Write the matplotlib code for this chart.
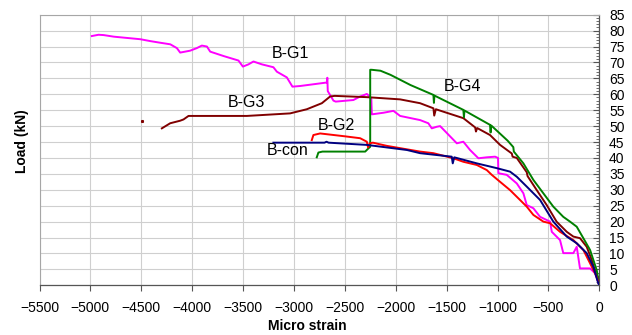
import matplotlib
matplotlib.use("Agg")
import matplotlib.pyplot as plt
from matplotlib.ticker import MultipleLocator

plt.rcParams['font.family'] = ['Liberation Sans', 'DejaVu Sans']

# load - strain curves, micro strain (negative = compression) vs load in kN
g1_x = [-4986, -4920, -4870, -4770, -4510, -4410, -4315, -4215, -4150, -4118,
        -4020, -3955, -3905, -3855, -3823, -3690, -3545, -3502, -3447, -3398,
        -3315, -3202, -3168, -3070, -3015, -2940, -2677, -2672, -2668, -2612,
        -2590, -2416, -2350, -2284, -2262, -2240, -2235, -2121, -2023, -1990,
        -1957, -1761, -1680, -1646, -1597, -1564, -1400, -1336, -1270, -1188,
        -1106, -1024, -995, -992, -910, -811, -746, -713, -648, -582,
        -484, -467, -386, -354, -255, -222, -190, -91, -42, 0]
g1_y = [78.3, 78.7, 78.6, 78.1, 77.3, 76.7, 76.2, 75.7, 74.5, 73.1,
        73.7, 74.5, 75.3, 75.0, 73.4, 72.0, 70.6, 68.7, 69.4, 70.3,
        69.4, 68.5, 67.1, 65.3, 62.4, 62.6, 63.7, 65.2, 61.0, 58.0,
        57.7, 58.2, 59.3, 60.1, 59.5, 58.5, 53.7, 54.2, 54.8, 54.0,
        53.2, 51.9, 50.9, 49.3, 49.8, 50.0, 44.6, 45.1, 42.5, 39.9,
        40.2, 40.4, 40.0, 35.2, 34.7, 32.0, 28.9, 25.2, 24.2, 21.5,
        20.0, 16.8, 14.2, 10.1, 10.1, 12.1, 5.3, 5.3, 3.8, 0]

g3_x = [-4298, -4216, -4118, -4085, -4036, -3463, -3038, -2874, -2726, -2645,
        -2600, -2284, -1957, -1761, -1630, -1622, -1606, -1336, -1220, -1212,
        -1200, -1074, -975, -860, -852, -811, -713, -705, -615, -517,
        -420, -320, -255, -190, -124, -75, 0]
g3_y = [49.3, 50.9, 51.7, 52.1, 53.2, 53.2, 54.0, 55.3, 57.2, 59.3,
        59.5, 59.1, 58.4, 57.2, 55.6, 53.3, 55.3, 52.5, 49.6, 48.3,
        49.4, 47.2, 44.1, 41.4, 40.4, 40.0, 35.5, 34.3, 29.9, 25.2,
        20.0, 16.8, 15.3, 14.8, 12.1, 8.0, 0]
g3_stray_x = [-4495]
g3_stray_y = [51.7]

g4_x = [-2776, -2760, -2720, -2300, -2269, -2251, -2251, -2236, -2150, -2051,
        -1855, -1630, -1625, -1620, -1336, -1330, -1325, -1074, -1068, -1062,
        -900, -845, -840, -746, -648, -550, -452, -354, -288, -222,
        -157, -91, -26, 0]
g4_y = [40.2, 41.7, 42.0, 42.0, 43.0, 43.5, 67.7, 67.7, 67.4, 66.1,
        62.9, 59.8, 57.3, 59.6, 55.1, 52.8, 54.9, 50.4, 48.0, 50.2,
        45.4, 43.4, 42.0, 38.3, 33.1, 28.9, 24.7, 21.5, 20.0, 18.4,
        14.8, 11.1, 4.8, 0]

g2_x = [-2825, -2809, -2743, -2500, -2350, -2284, -2272, -2255, -2225, -2088,
        -1761, -1630, -1434, -1336, -1204, -1106, -1057, -975, -877, -779,
        -713, -648, -550, -484, -386, -255, -157, -91, -26, 0]
g2_y = [45.6, 47.2, 47.7, 46.8, 46.2, 45.1, 43.3, 44.6, 44.8, 43.8,
        42.0, 41.5, 39.9, 38.8, 37.8, 36.2, 34.7, 32.5, 29.9, 26.8,
        24.7, 22.1, 20.0, 19.5, 16.8, 14.2, 11.1, 6.9, 2.7, 0]

con_x = [-3202, -2700, -2680, -2660, -2284, -1890, -1761, -1450, -1440, -1425,
         -1204, -1008, -877, -811, -713, -582, -452, -320, -222, -124,
         -59, -10, 0]
con_y = [44.8, 44.8, 45.1, 44.8, 44.1, 42.5, 41.5, 40.4, 38.3, 40.2,
         38.3, 36.8, 35.7, 34.1, 31.0, 26.8, 20.0, 15.3, 13.2, 10.1,
         5.8, 0.6, 0]

labels = ['B-G1', 'B-G3', 'B-G2', 'B-con', 'B-G4']
label_x = [-3038, -3470, -2586, -3067, -1344]
label_y = [72.7, 57.3, 50.2, 42.2, 62.6]

fig = plt.figure(figsize=(6.32, 3.35), dpi=100)
ax = fig.add_axes([0.0625, 0.1484, 0.8858, 0.8077])

lw = 1.4
ax.plot(g1_x, g1_y, color='#FF00FF', lw=lw, zorder=3)
ax.plot(g3_x, g3_y, color='#800000', lw=lw, zorder=3)
ax.plot(g3_stray_x, g3_stray_y, 's', color='#800000', ms=1.2, zorder=3)
ax.plot(g4_x, g4_y, color='#008000', lw=lw, zorder=3)
ax.plot(g2_x, g2_y, color='#FF0000', lw=lw, zorder=4)
ax.plot(con_x, con_y, color='#000080', lw=lw, zorder=5)

for t, x, y in zip(labels, label_x, label_y):
    ax.text(x, y, t, fontsize=11.5, ha='center', va='center', zorder=6)

ax.set_xlim(-5500, 0)
ax.set_ylim(0, 85)
ax.xaxis.set_major_locator(MultipleLocator(500))
ax.yaxis.set_major_locator(MultipleLocator(5))
ax.yaxis.set_minor_locator(MultipleLocator(1))
ax.yaxis.tick_right()
ax.grid(True, color='#cfcfcf', lw=0.8, zorder=0)

ax.tick_params(axis='x', direction='out', length=4, width=0.8, color='#555555',
               labelsize=10, pad=7)
ax.tick_params(axis='y', which='major', direction='in', length=4, width=0.8,
               color='#555555', labelsize=10, pad=7)
ax.tick_params(axis='y', which='minor', direction='in', length=2, width=0.6,
               color='#555555')

for s in ['top', 'left']:
    ax.spines[s].set_color('#a6a6a6')
    ax.spines[s].set_linewidth(0.8)
for s in ['bottom', 'right']:
    ax.spines[s].set_color('#555555')
    ax.spines[s].set_linewidth(0.9)

fig.text(0.486, 0.006, 'Micro strain', fontsize=10, fontweight='bold',
         ha='center', va='bottom')
fig.text(0.035, 0.578, 'Load (kN)', fontsize=10, fontweight='bold',
         rotation=90, ha='center', va='center')

fig.savefig('out.png', dpi=100)
